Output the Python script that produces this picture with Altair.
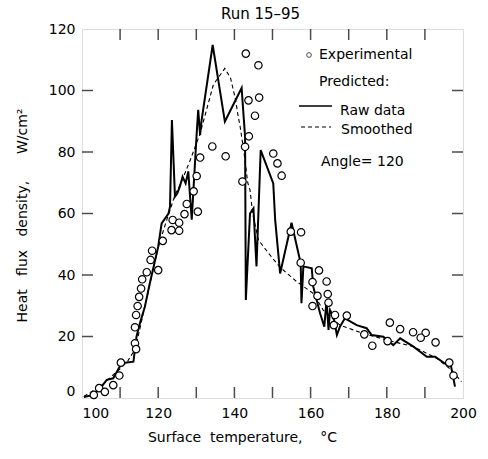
import altair as alt
import pandas as pd

FONT = "DejaVu Sans"

# Raw data prediction (solid line)
raw_x = [100.5, 103.0, 105.0, 106.5, 108.2, 110.4, 113.5, 114.3, 115.2, 116.5, 117.8, 119.2, 120.0, 120.9,
         122.7, 123.1, 123.6, 124.4, 125.0, 125.7, 126.4, 127.2, 127.9, 128.3, 128.8, 130.1, 130.5, 131.0,
         131.4, 134.3, 137.5, 141.9, 142.3, 142.8, 143.0, 144.1, 145.0, 145.8, 146.9, 150.2, 150.7, 152.0,
         155.0, 157.4, 157.6, 158.1, 160.3, 160.7, 162.5, 163.6, 164.2, 164.7, 165.1, 166.0, 166.9, 167.7,
         169.0, 172.1, 174.7, 176.0, 179.1, 181.7, 183.5, 187.0, 190.5, 192.7, 195.8, 196.8, 197.9]
raw_y = [0.3, 1.0, 3.5, 5.9, 6.4, 11.3, 11.8, 19.9, 24.3, 29.7, 37.3, 44.9, 49.2, 56.8,
         60.0, 62.2, 90.4, 65.5, 66.5, 68.8, 72.0, 69.8, 73.7, 66.5, 58.0, 86.0, 93.7, 85.5,
         90.4, 114.8, 89.9, 100.8, 93.7, 85.0, 31.9, 60.0, 61.7, 42.8, 80.6, 69.8, 57.9, 40.5,
         57.0, 43.8, 30.8, 42.8, 42.2, 36.2, 27.5, 23.2, 31.9, 22.1, 28.6, 26.4, 20.5, 23.2,
         25.9, 23.7, 22.7, 20.5, 19.9, 17.2, 19.4, 16.7, 13.4, 13.4, 10.7, 10.7, 3.7]

# Smoothed prediction (dashed line)
smooth_x = [100.5, 105, 110, 112, 114, 116, 118, 120, 122, 124.4, 126, 128.3, 131, 134.5, 137.5, 139,
            140.3, 141, 141.5, 142.5, 143.5, 144.1, 144.8, 146.3, 149, 152, 156.3, 160.7, 163.3, 167.7,
            173.8, 179.9, 187, 193.1, 197, 199.6]
smooth_y = [0.5, 4, 9.5, 12, 16, 27, 38, 49, 57, 66, 70, 77, 86, 102, 107.2, 104,
            97, 91.5, 88.3, 80, 70, 67.6, 60, 51.4, 47, 42.5, 37.9, 34, 28.6, 23.7,
            21, 18.9, 16.7, 12.9, 9.1, 5.3]

# Experimental points
exp_x = [103.1, 104.5, 106.0, 108.2, 109.8, 110.2, 113.9, 114.2, 113.9, 114.2, 114.6, 115.0, 115.5,
         115.8, 117.0, 118.0, 118.4, 120.0, 121.2, 123.8, 123.5, 125.5, 125.5, 126.9, 127.5, 130.4,
         129.3, 130.1, 131.0, 134.2, 137.7, 142.1, 142.8, 143.8, 145.4, 143.7, 146.5, 146.3, 143.0,
         150.2, 151.3, 152.4, 154.8, 157.5, 157.4, 162.2, 160.5, 161.8, 160.5, 164.2, 164.5, 164.7,
         166.4, 166.1, 169.5, 174.1, 176.2, 180.8, 183.5, 180.2, 186.9, 190.2, 188.9, 192.8, 196.4, 197.5]
exp_y = [1.0, 3.2, 2.0, 4.2, 7.3, 11.5, 17.8, 15.9, 23.0, 27.0, 29.9, 32.9, 35.6,
         38.6, 40.9, 44.9, 47.9, 41.6, 51.1, 57.9, 54.6, 57.0, 54.4, 59.8, 63.1, 60.6,
         67.2, 72.2, 78.2, 81.8, 78.6, 70.4, 81.7, 85.1, 91.8, 96.8, 97.7, 108.2, 112.0,
         79.5, 76.3, 72.3, 54.1, 53.9, 44.0, 41.5, 37.7, 33.2, 29.9, 37.9, 33.8, 31.0,
         27.0, 23.7, 26.8, 20.7, 17.0, 24.5, 22.4, 18.5, 21.4, 21.2, 19.6, 18.1, 11.5, 7.3]

x_label_values = [100, 120, 140, 160, 180, 200]
y_label_values = [0, 20, 40, 60, 80, 100, 120]
x_tick_values = [110, 120, 130, 140, 150, 160, 170, 180, 190]
y_tick_values = [20, 40, 60, 80, 100]

W, H = 381, 369
TL = 11  # tick length

raw_df = pd.DataFrame({"T": raw_x, "q": raw_y, "i": list(range(len(raw_x)))})
smooth_df = pd.DataFrame({"T": smooth_x, "q": smooth_y, "i": list(range(len(smooth_x)))})
exp_df = pd.DataFrame({"T": exp_x, "q": exp_y})
xt_df = pd.DataFrame({"T": x_tick_values})
yt_df = pd.DataFrame({"q": y_tick_values})
one = pd.DataFrame({"a": [0]})

xs = alt.Scale(domain=[100, 200], nice=False)
ys = alt.Scale(domain=[0, 120], nice=False)

x_axis = alt.Axis(
    values=x_label_values, ticks=False, grid=False, domain=False,
    labelPadding=8, labelFont=FONT, labelFontSize=14, labelColor="black",
    labelAlign={"condition": {"test": "datum.value == 100", "value": "left"}, "value": "center"},
    title="Surface\u00a0 temperature,\u00a0\u00a0\u00a0 °C", titleFont=FONT, titleFontSize=14,
    titleFontWeight="normal", titleColor="black",
    titleX=160, titleY=39, titleAlign="center", titleBaseline="middle",
)
y_axis = alt.Axis(
    values=y_label_values, ticks=False, grid=False, domain=False,
    labelPadding=7, labelFont=FONT, labelFontSize=14, labelColor="black",
    labelBaseline={"condition": {"test": "datum.value == 0", "value": "bottom"}, "value": "middle"},
    title="Heat\u00a0\u00a0 flux\u00a0\u00a0 density,\u00a0\u00a0\u00a0\u00a0\u00a0 W/cm²", titleFont=FONT,
    titleFontSize=14, titleFontWeight="normal", titleColor="black",
    titleX=-60, titleY=186, titleAlign="center", titleBaseline="middle", titleAngle=270,
)

X = alt.X("T:Q", scale=xs, axis=x_axis)
Y = alt.Y("q:Q", scale=ys, axis=y_axis)

smooth = alt.Chart(smooth_df).mark_line(color="black", strokeWidth=1.1, strokeDash=[4, 3]).encode(
    x=X, y=Y, order="i:Q")
raw = alt.Chart(raw_df).mark_line(color="black", strokeWidth=2).encode(x=X, y=Y, order="i:Q")
pts = alt.Chart(exp_df).mark_point(shape="circle", filled=True, fill="white", stroke="black",
                                   strokeWidth=1.2, size=55, opacity=1).encode(x=X, y=Y)

xt_bottom = alt.Chart(xt_df).mark_tick(orient="vertical", size=TL, thickness=1.5, color="black").encode(
    x=X, y=alt.value(H - TL / 2))
xt_top = alt.Chart(xt_df).mark_tick(orient="vertical", size=TL, thickness=1.5, color="black").encode(
    x=X, y=alt.value(TL / 2))
yt_left = alt.Chart(yt_df).mark_tick(orient="horizontal", size=TL, thickness=1.5, color="black").encode(
    y=Y, x=alt.value(TL / 2))
yt_right = alt.Chart(yt_df).mark_tick(orient="horizontal", size=TL, thickness=1.5, color="black").encode(
    y=Y, x=alt.value(W - TL / 2))

def label(txt, px, py):
    return alt.Chart(one).mark_text(text=txt, align="left", baseline="middle", font=FONT,
                                    fontSize=14, color="black").encode(x=alt.value(px), y=alt.value(py))

leg_circle = alt.Chart(one).mark_point(shape="circle", filled=False, stroke="black", strokeWidth=1,
                                       size=22).encode(x=alt.value(227), y=alt.value(26))
leg_solid = alt.Chart(one).mark_rule(color="black", strokeWidth=1.5).encode(
    x=alt.value(217), x2=alt.value(250), y=alt.value(77))
leg_dash = alt.Chart(one).mark_rule(color="black", strokeWidth=1.1, strokeDash=[4, 3]).encode(
    x=alt.value(219), x2=alt.value(249), y=alt.value(98))

chart = alt.layer(
    smooth, raw, pts, xt_bottom, xt_top, yt_left, yt_right,
    leg_circle, leg_solid, leg_dash,
    label("Experimental", 237, 26),
    label("Predicted:", 237, 53),
    label("Raw data", 258, 82),
    label("Smoothed", 259, 101),
    label("Angle= 120", 239, 133),
).properties(
    width=W, height=H,
    title=alt.TitleParams("Run 15–95", font=FONT, fontSize=15, fontWeight="normal", color="black",
                          dx=-12, offset=0),
    autosize=alt.AutoSizeParams(type="none"),
    padding={"left": 82, "top": 29, "right": 25, "bottom": 61},
).configure_view(stroke="black", strokeWidth=1.5).configure(background="white")

chart.save("out.html", embed_options={"renderer": "svg", "actions": False})
